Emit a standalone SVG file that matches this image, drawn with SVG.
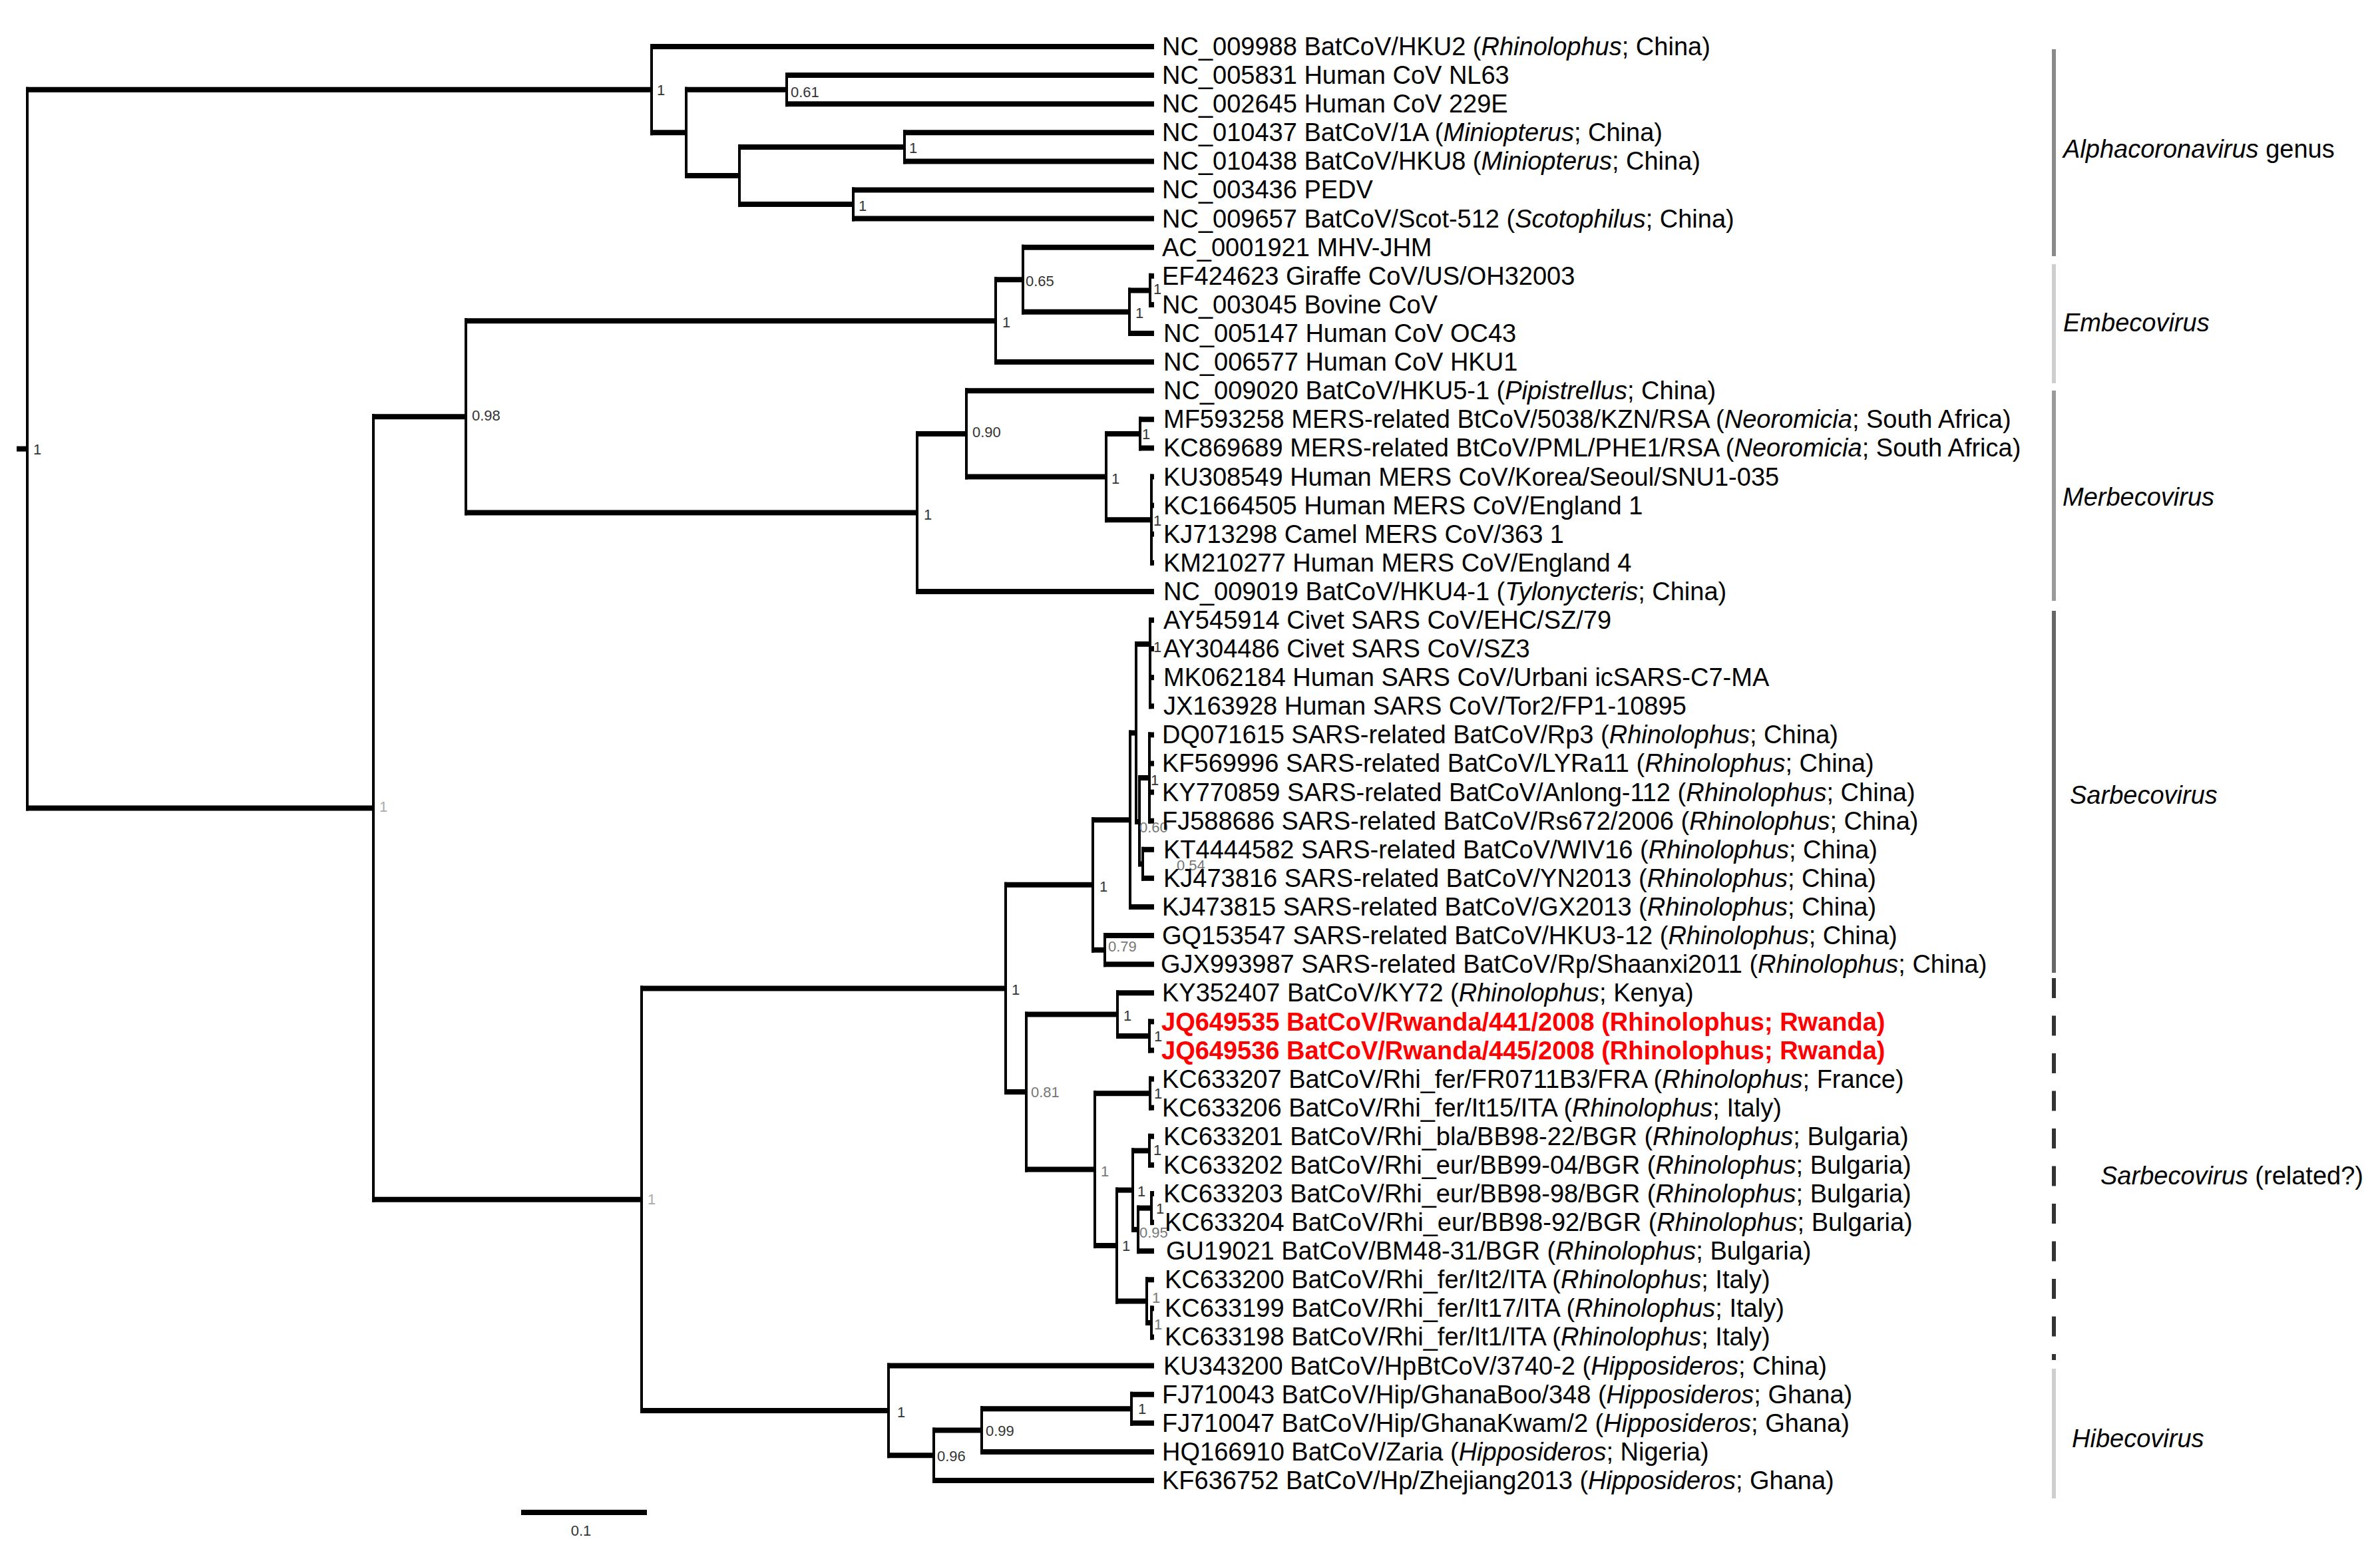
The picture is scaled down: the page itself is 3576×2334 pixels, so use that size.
<svg xmlns="http://www.w3.org/2000/svg" width="3576" height="2334" viewBox="0 0 3576 2334">
<style>
text{font-family:"Liberation Sans",Arial,sans-serif}
.lf{font-size:38px;fill:#000}
.red{font-size:38px;fill:#ff0000;font-weight:bold}
.bs{font-size:22px;fill:#333}
.bg{font-size:22px;fill:#777}
.bf{font-size:22px;fill:#aaa}
.cl{font-size:38px;fill:#000}
.h{stroke:#000;stroke-width:8}
.v{stroke:#000;stroke-width:4}
.bar{stroke-width:6;fill:none}
</style>
<rect width="3576" height="2334" fill="#fff"/>
<g id="connectors">
<g id="internal-h" class="h">
<line x1="25" y1="674.6" x2="43" y2="674.6"/>
<line x1="39" y1="134.7" x2="981" y2="134.7"/>
<line x1="977" y1="199.3" x2="1033" y2="199.3"/>
<line x1="1029" y1="134.7" x2="1184" y2="134.7"/>
<line x1="1029" y1="264" x2="1113" y2="264"/>
<line x1="1109" y1="220.9" x2="1361" y2="220.9"/>
<line x1="1109" y1="307.1" x2="1284" y2="307.1"/>
<line x1="39" y1="1214.5" x2="563" y2="1214.5"/>
<line x1="559" y1="626.3" x2="702" y2="626.3"/>
<line x1="698" y1="482.2" x2="1498" y2="482.2"/>
<line x1="1494" y1="420.2" x2="1539" y2="420.2"/>
<line x1="1535" y1="468.7" x2="1699" y2="468.7"/>
<line x1="1695" y1="436.4" x2="1730" y2="436.4"/>
<line x1="698" y1="770.4" x2="1380" y2="770.4"/>
<line x1="1376" y1="651.9" x2="1454" y2="651.9"/>
<line x1="1450" y1="716.5" x2="1664" y2="716.5"/>
<line x1="1660" y1="651.9" x2="1715" y2="651.9"/>
<line x1="1660" y1="781.2" x2="1732" y2="781.2"/>
<line x1="559" y1="1802.7" x2="966" y2="1802.7"/>
<line x1="962" y1="1485.5" x2="1513" y2="1485.5"/>
<line x1="1509" y1="1329.8" x2="1644" y2="1329.8"/>
<line x1="1640" y1="1232.3" x2="1700" y2="1232.3"/>
<line x1="1696" y1="1101.5" x2="1709" y2="1101.5"/>
<line x1="1705" y1="968" x2="1730" y2="968"/>
<line x1="1705" y1="1235" x2="1714" y2="1235"/>
<line x1="1710" y1="1169" x2="1729" y2="1169"/>
<line x1="1710" y1="1298.4" x2="1719" y2="1298.4"/>
<line x1="1640" y1="1427.7" x2="1662" y2="1427.7"/>
<line x1="1509" y1="1641.1" x2="1544" y2="1641.1"/>
<line x1="1540" y1="1524.6" x2="1681" y2="1524.6"/>
<line x1="1677" y1="1557" x2="1729" y2="1557"/>
<line x1="1540" y1="1757.6" x2="1647" y2="1757.6"/>
<line x1="1643" y1="1643.2" x2="1730" y2="1643.2"/>
<line x1="1643" y1="1872.1" x2="1680" y2="1872.1"/>
<line x1="1676" y1="1788.6" x2="1704" y2="1788.6"/>
<line x1="1700" y1="1729.4" x2="1729" y2="1729.4"/>
<line x1="1700" y1="1847.9" x2="1712" y2="1847.9"/>
<line x1="1708" y1="1815.6" x2="1732" y2="1815.6"/>
<line x1="1676" y1="1955.6" x2="1725" y2="1955.6"/>
<line x1="1721" y1="1988" x2="1732" y2="1988"/>
<line x1="962" y1="2120" x2="1337" y2="2120"/>
<line x1="1333" y1="2187.3" x2="1405" y2="2187.3"/>
<line x1="1401" y1="2149.6" x2="1477" y2="2149.6"/>
<line x1="1473" y1="2117.3" x2="1702" y2="2117.3"/>
</g>
<g id="internal-v" class="v">
<line x1="41" y1="130.7" x2="41" y2="1218.5"/>
<line x1="979" y1="66" x2="979" y2="203.3"/>
<line x1="1031" y1="130.7" x2="1031" y2="268"/>
<line x1="1182" y1="109.1" x2="1182" y2="160.2"/>
<line x1="1111" y1="216.9" x2="1111" y2="311.1"/>
<line x1="1359" y1="195.3" x2="1359" y2="246.4"/>
<line x1="1282" y1="281.5" x2="1282" y2="332.6"/>
<line x1="561" y1="622.3" x2="561" y2="1806.7"/>
<line x1="700" y1="478.2" x2="700" y2="774.4"/>
<line x1="1496" y1="416.2" x2="1496" y2="548.1"/>
<line x1="1537" y1="367.7" x2="1537" y2="472.7"/>
<line x1="1697" y1="432.4" x2="1697" y2="505"/>
<line x1="1728" y1="410.8" x2="1728" y2="461.9"/>
<line x1="1378" y1="647.9" x2="1378" y2="892.9"/>
<line x1="1452" y1="583.2" x2="1452" y2="720.5"/>
<line x1="1662" y1="647.9" x2="1662" y2="785.2"/>
<line x1="1713" y1="626.3" x2="1713" y2="677.4"/>
<line x1="1730" y1="712.5" x2="1730" y2="849.8"/>
<line x1="964" y1="1481.5" x2="964" y2="2124"/>
<line x1="1511" y1="1325.8" x2="1511" y2="1645.1"/>
<line x1="1642" y1="1228.3" x2="1642" y2="1431.7"/>
<line x1="1698" y1="1097.5" x2="1698" y2="1367"/>
<line x1="1707" y1="964" x2="1707" y2="1239"/>
<line x1="1728" y1="928" x2="1728" y2="1065.3"/>
<line x1="1712" y1="1165" x2="1712" y2="1302.4"/>
<line x1="1727" y1="1100.4" x2="1727" y2="1237.7"/>
<line x1="1717" y1="1272.8" x2="1717" y2="1323.9"/>
<line x1="1660" y1="1402.1" x2="1660" y2="1453.2"/>
<line x1="1542" y1="1520.6" x2="1542" y2="1761.6"/>
<line x1="1679" y1="1488.3" x2="1679" y2="1561"/>
<line x1="1727" y1="1531.4" x2="1727" y2="1582.5"/>
<line x1="1645" y1="1639.2" x2="1645" y2="1876.1"/>
<line x1="1728" y1="1617.6" x2="1728" y2="1668.7"/>
<line x1="1678" y1="1784.6" x2="1678" y2="1959.6"/>
<line x1="1702" y1="1725.4" x2="1702" y2="1851.9"/>
<line x1="1727" y1="1703.8" x2="1727" y2="1754.9"/>
<line x1="1710" y1="1811.6" x2="1710" y2="1884.2"/>
<line x1="1730" y1="1790" x2="1730" y2="1841.1"/>
<line x1="1723" y1="1919.3" x2="1723" y2="1992"/>
<line x1="1730" y1="1962.4" x2="1730" y2="2013.5"/>
<line x1="1335" y1="2048.6" x2="1335" y2="2191.3"/>
<line x1="1403" y1="2145.6" x2="1403" y2="2229"/>
<line x1="1475" y1="2113.3" x2="1475" y2="2185.9"/>
<line x1="1700" y1="2091.7" x2="1700" y2="2142.8"/>
</g>
<g id="leaf-branches" class="h">
<line x1="977" y1="70" x2="1734" y2="70"/>
<line x1="1180" y1="113.1" x2="1734" y2="113.1"/>
<line x1="1180" y1="156.2" x2="1734" y2="156.2"/>
<line x1="1357" y1="199.3" x2="1734" y2="199.3"/>
<line x1="1357" y1="242.4" x2="1734" y2="242.4"/>
<line x1="1280" y1="285.5" x2="1734" y2="285.5"/>
<line x1="1280" y1="328.6" x2="1734" y2="328.6"/>
<line x1="1535" y1="371.7" x2="1734" y2="371.7"/>
<line x1="1726" y1="414.8" x2="1734" y2="414.8"/>
<line x1="1726" y1="457.9" x2="1734" y2="457.9"/>
<line x1="1695" y1="501" x2="1734" y2="501"/>
<line x1="1494" y1="544.1" x2="1734" y2="544.1"/>
<line x1="1450" y1="587.2" x2="1734" y2="587.2"/>
<line x1="1711" y1="630.3" x2="1734" y2="630.3"/>
<line x1="1711" y1="673.4" x2="1734" y2="673.4"/>
<line x1="1728" y1="716.5" x2="1734" y2="716.5"/>
<line x1="1728" y1="759.6" x2="1734" y2="759.6"/>
<line x1="1728" y1="802.7" x2="1734" y2="802.7"/>
<line x1="1728" y1="845.8" x2="1734" y2="845.8"/>
<line x1="1376" y1="888.9" x2="1734" y2="888.9"/>
<line x1="1726" y1="932" x2="1734" y2="932"/>
<line x1="1726" y1="975.1" x2="1734" y2="975.1"/>
<line x1="1726" y1="1018.2" x2="1734" y2="1018.2"/>
<line x1="1726" y1="1061.3" x2="1734" y2="1061.3"/>
<line x1="1725" y1="1104.4" x2="1734" y2="1104.4"/>
<line x1="1725" y1="1147.5" x2="1734" y2="1147.5"/>
<line x1="1725" y1="1190.6" x2="1734" y2="1190.6"/>
<line x1="1725" y1="1233.7" x2="1734" y2="1233.7"/>
<line x1="1715" y1="1276.8" x2="1734" y2="1276.8"/>
<line x1="1715" y1="1319.9" x2="1734" y2="1319.9"/>
<line x1="1696" y1="1363" x2="1734" y2="1363"/>
<line x1="1658" y1="1406.1" x2="1734" y2="1406.1"/>
<line x1="1658" y1="1449.2" x2="1734" y2="1449.2"/>
<line x1="1677" y1="1492.3" x2="1734" y2="1492.3"/>
<line x1="1725" y1="1535.4" x2="1734" y2="1535.4"/>
<line x1="1725" y1="1578.5" x2="1734" y2="1578.5"/>
<line x1="1726" y1="1621.6" x2="1734" y2="1621.6"/>
<line x1="1726" y1="1664.7" x2="1734" y2="1664.7"/>
<line x1="1725" y1="1707.8" x2="1734" y2="1707.8"/>
<line x1="1725" y1="1750.9" x2="1734" y2="1750.9"/>
<line x1="1728" y1="1794" x2="1734" y2="1794"/>
<line x1="1728" y1="1837.1" x2="1734" y2="1837.1"/>
<line x1="1708" y1="1880.2" x2="1734" y2="1880.2"/>
<line x1="1721" y1="1923.3" x2="1734" y2="1923.3"/>
<line x1="1728" y1="1966.4" x2="1734" y2="1966.4"/>
<line x1="1728" y1="2009.5" x2="1734" y2="2009.5"/>
<line x1="1333" y1="2052.6" x2="1734" y2="2052.6"/>
<line x1="1698" y1="2095.7" x2="1734" y2="2095.7"/>
<line x1="1698" y1="2138.8" x2="1734" y2="2138.8"/>
<line x1="1473" y1="2181.9" x2="1734" y2="2181.9"/>
<line x1="1401" y1="2225" x2="1734" y2="2225"/>
</g>
</g>
<g id="support-labels">
<text class="bs" x="50" y="683">1</text>
<text class="bs" x="987" y="143">1</text>
<text class="bs" x="1188" y="146">0.61</text>
<text class="bs" x="1366" y="230">1</text>
<text class="bs" x="1290" y="317">1</text>
<text class="bf" x="570" y="1220">1</text>
<text class="bs" x="709" y="632">0.98</text>
<text class="bs" x="1506" y="492">1</text>
<text class="bs" x="1541" y="430">0.65</text>
<text class="bs" x="1706" y="478">1</text>
<text class="bs" x="1733" y="442">1</text>
<text class="bs" x="1388" y="781">1</text>
<text class="bs" x="1461" y="657">0.90</text>
<text class="bs" x="1670" y="727">1</text>
<text class="bs" x="1716" y="660">1</text>
<text class="bs" x="1733" y="790">1</text>
<text class="bf" x="973" y="1810">1</text>
<text class="bs" x="1520" y="1495">1</text>
<text class="bs" x="1652" y="1340">1</text>
<text class="bs" x="1733" y="980">1</text>
<text class="bg" x="1712" y="1251">0.60</text>
<text class="bs" x="1729" y="1180">1</text>
<text class="bg" x="1768" y="1308">0.54</text>
<text class="bg" x="1665" y="1430">0.79</text>
<text class="bg" x="1549" y="1649">0.81</text>
<text class="bs" x="1688" y="1534">1</text>
<text class="bs" x="1734" y="1565">1</text>
<text class="bg" x="1654" y="1768">1</text>
<text class="bs" x="1734" y="1651">1</text>
<text class="bs" x="1686" y="1880">1</text>
<text class="bs" x="1709" y="1798">1</text>
<text class="bs" x="1733" y="1736">1</text>
<text class="bg" x="1712" y="1860">0.95</text>
<text class="bs" x="1737" y="1824">1</text>
<text class="bg" x="1731" y="1958">1</text>
<text class="bg" x="1734" y="1998">1</text>
<text class="bs" x="1348" y="2130">1</text>
<text class="bs" x="1408" y="2196">0.96</text>
<text class="bs" x="1481" y="2158">0.99</text>
<text class="bs" x="1710" y="2125">1</text>
</g>
<g id="leaves">
<g id="leaf1"><text class="lf" x="1746" y="83">NC_009988 BatCoV/HKU2 (<tspan font-style="italic">Rhinolophus</tspan>; China)</text></g>
<g id="leaf2"><text class="lf" x="1746" y="126">NC_005831 Human CoV NL63</text></g>
<g id="leaf3"><text class="lf" x="1746" y="169">NC_002645 Human CoV 229E</text></g>
<g id="leaf4"><text class="lf" x="1746" y="212">NC_010437 BatCoV/1A (<tspan font-style="italic">Miniopterus</tspan>; China)</text></g>
<g id="leaf5"><text class="lf" x="1746" y="255">NC_010438 BatCoV/HKU8 (<tspan font-style="italic">Miniopterus</tspan>; China)</text></g>
<g id="leaf6"><text class="lf" x="1746" y="298">NC_003436 PEDV</text></g>
<g id="leaf7"><text class="lf" x="1746" y="342">NC_009657 BatCoV/Scot-512 (<tspan font-style="italic">Scotophilus</tspan>; China)</text></g>
<g id="leaf8"><text class="lf" x="1746" y="385">AC_0001921 MHV-JHM</text></g>
<g id="leaf9"><text class="lf" x="1746" y="428">EF424623 Giraffe CoV/US/OH32003</text></g>
<g id="leaf10"><text class="lf" x="1746" y="471">NC_003045 Bovine CoV</text></g>
<g id="leaf11"><text class="lf" x="1748" y="514">NC_005147 Human CoV OC43</text></g>
<g id="leaf12"><text class="lf" x="1748" y="557">NC_006577 Human CoV HKU1</text></g>
<g id="leaf13"><text class="lf" x="1748" y="600">NC_009020 BatCoV/HKU5-1 (<tspan font-style="italic">Pipistrellus</tspan>; China)</text></g>
<g id="leaf14"><text class="lf" x="1748" y="643">MF593258 MERS-related BtCoV/5038/KZN/RSA (<tspan font-style="italic">Neoromicia</tspan>; South Africa)</text></g>
<g id="leaf15"><text class="lf" x="1748" y="686">KC869689 MERS-related BtCoV/PML/PHE1/RSA (<tspan font-style="italic">Neoromicia</tspan>; South Africa)</text></g>
<g id="leaf16"><text class="lf" x="1748" y="730">KU308549 Human MERS CoV/Korea/Seoul/SNU1-035</text></g>
<g id="leaf17"><text class="lf" x="1748" y="773">KC1664505 Human MERS CoV/England 1</text></g>
<g id="leaf18"><text class="lf" x="1748" y="816">KJ713298 Camel MERS CoV/363 1</text></g>
<g id="leaf19"><text class="lf" x="1748" y="859">KM210277 Human MERS CoV/England 4</text></g>
<g id="leaf20"><text class="lf" x="1748" y="902">NC_009019 BatCoV/HKU4-1 (<tspan font-style="italic">Tylonycteris</tspan>; China)</text></g>
<g id="leaf21"><text class="lf" x="1748" y="945">AY545914 Civet SARS CoV/EHC/SZ/79</text></g>
<g id="leaf22"><text class="lf" x="1748" y="988">AY304486 Civet SARS CoV/SZ3</text></g>
<g id="leaf23"><text class="lf" x="1748" y="1031">MK062184 Human SARS CoV/Urbani icSARS-C7-MA</text></g>
<g id="leaf24"><text class="lf" x="1748" y="1074">JX163928 Human SARS CoV/Tor2/FP1-10895</text></g>
<g id="leaf25"><text class="lf" x="1746" y="1117">DQ071615 SARS-related BatCoV/Rp3 (<tspan font-style="italic">Rhinolophus</tspan>; China)</text></g>
<g id="leaf26"><text class="lf" x="1746" y="1160">KF569996 SARS-related BatCoV/LYRa11 (<tspan font-style="italic">Rhinolophus</tspan>; China)</text></g>
<g id="leaf27"><text class="lf" x="1746" y="1204">KY770859 SARS-related BatCoV/Anlong-112 (<tspan font-style="italic">Rhinolophus</tspan>; China)</text></g>
<g id="leaf28"><text class="lf" x="1746" y="1247">FJ588686 SARS-related BatCoV/Rs672/2006 (<tspan font-style="italic">Rhinolophus</tspan>; China)</text></g>
<g id="leaf29"><text class="lf" x="1748" y="1290">KT4444582 SARS-related BatCoV/WIV16 (<tspan font-style="italic">Rhinolophus</tspan>; China)</text></g>
<g id="leaf30"><text class="lf" x="1748" y="1333">KJ473816 SARS-related BatCoV/YN2013 (<tspan font-style="italic">Rhinolophus</tspan>; China)</text></g>
<g id="leaf31"><text class="lf" x="1746" y="1376">KJ473815 SARS-related BatCoV/GX2013 (<tspan font-style="italic">Rhinolophus</tspan>; China)</text></g>
<g id="leaf32"><text class="lf" x="1746" y="1419">GQ153547 SARS-related BatCoV/HKU3-12 (<tspan font-style="italic">Rhinolophus</tspan>; China)</text></g>
<g id="leaf33"><text class="lf" x="1744" y="1462">GJX993987 SARS-related BatCoV/Rp/Shaanxi2011 (<tspan font-style="italic">Rhinolophus</tspan>; China)</text></g>
<g id="leaf34"><text class="lf" x="1746" y="1505">KY352407 BatCoV/KY72 (<tspan font-style="italic">Rhinolophus</tspan>; Kenya)</text></g>
<g id="leaf35"><text class="red" x="1745" y="1549">JQ649535 BatCoV/Rwanda/441/2008 (Rhinolophus; Rwanda)</text></g>
<g id="leaf36"><text class="red" x="1745" y="1592">JQ649536 BatCoV/Rwanda/445/2008 (Rhinolophus; Rwanda)</text></g>
<g id="leaf37"><text class="lf" x="1746" y="1635">KC633207 BatCoV/Rhi_fer/FR0711B3/FRA (<tspan font-style="italic">Rhinolophus</tspan>; France)</text></g>
<g id="leaf38"><text class="lf" x="1746" y="1678">KC633206 BatCoV/Rhi_fer/It15/ITA (<tspan font-style="italic">Rhinolophus</tspan>; Italy)</text></g>
<g id="leaf39"><text class="lf" x="1748" y="1721">KC633201 BatCoV/Rhi_bla/BB98-22/BGR (<tspan font-style="italic">Rhinolophus</tspan>; Bulgaria)</text></g>
<g id="leaf40"><text class="lf" x="1748" y="1764">KC633202 BatCoV/Rhi_eur/BB99-04/BGR (<tspan font-style="italic">Rhinolophus</tspan>; Bulgaria)</text></g>
<g id="leaf41"><text class="lf" x="1748" y="1807">KC633203 BatCoV/Rhi_eur/BB98-98/BGR (<tspan font-style="italic">Rhinolophus</tspan>; Bulgaria)</text></g>
<g id="leaf42"><text class="lf" x="1750" y="1850">KC633204 BatCoV/Rhi_eur/BB98-92/BGR (<tspan font-style="italic">Rhinolophus</tspan>; Bulgaria)</text></g>
<g id="leaf43"><text class="lf" x="1752" y="1893">GU19021 BatCoV/BM48-31/BGR (<tspan font-style="italic">Rhinolophus</tspan>; Bulgaria)</text></g>
<g id="leaf44"><text class="lf" x="1750" y="1936">KC633200 BatCoV/Rhi_fer/It2/ITA (<tspan font-style="italic">Rhinolophus</tspan>; Italy)</text></g>
<g id="leaf45"><text class="lf" x="1750" y="1979">KC633199 BatCoV/Rhi_fer/It17/ITA (<tspan font-style="italic">Rhinolophus</tspan>; Italy)</text></g>
<g id="leaf46"><text class="lf" x="1750" y="2022">KC633198 BatCoV/Rhi_fer/It1/ITA (<tspan font-style="italic">Rhinolophus</tspan>; Italy)</text></g>
<g id="leaf47"><text class="lf" x="1748" y="2066">KU343200 BatCoV/HpBtCoV/3740-2 (<tspan font-style="italic">Hipposideros</tspan>; China)</text></g>
<g id="leaf48"><text class="lf" x="1746" y="2109">FJ710043 BatCoV/Hip/GhanaBoo/348 (<tspan font-style="italic">Hipposideros</tspan>; Ghana)</text></g>
<g id="leaf49"><text class="lf" x="1746" y="2152">FJ710047 BatCoV/Hip/GhanaKwam/2 (<tspan font-style="italic">Hipposideros</tspan>; Ghana)</text></g>
<g id="leaf50"><text class="lf" x="1746" y="2195">HQ166910 BatCoV/Zaria (<tspan font-style="italic">Hipposideros</tspan>; Nigeria)</text></g>
<g id="leaf51"><text class="lf" x="1746" y="2238">KF636752 BatCoV/Hp/Zhejiang2013 (<tspan font-style="italic">Hipposideros</tspan>; Ghana)</text></g>
</g>
<g id="clade-alpha">
<line class="bar" x1="3086" y1="74" x2="3086" y2="385" stroke="#8a8a8a"/>
<text class="cl" x="3100" y="237"><tspan font-style="italic">Alphacoronavirus</tspan> genus</text>
</g>
<g id="clade-embeco">
<line class="bar" x1="3086" y1="397" x2="3086" y2="576" stroke="#cfcfcf"/>
<text class="cl" x="3100" y="498" font-style="italic">Embecovirus</text>
</g>
<g id="clade-merbeco">
<line class="bar" x1="3086" y1="587" x2="3086" y2="903" stroke="#9a9a9a"/>
<text class="cl" x="3099" y="760" font-style="italic">Merbecovirus</text>
</g>
<g id="clade-sarbeco">
<line class="bar" x1="3086" y1="918" x2="3086" y2="1462" stroke="#666"/>
<text class="cl" x="3110" y="1208" font-style="italic">Sarbecovirus</text>
</g>
<g id="clade-sarbeco-related">
<line class="bar" x1="3086" y1="1470" x2="3086" y2="2044" stroke="#333" stroke-width="7" stroke-dasharray="30 26.5"/>
<text class="cl" x="3156" y="1780"><tspan font-style="italic">Sarbecovirus</tspan> (related?)</text>
</g>
<g id="clade-hibeco">
<line class="bar" x1="3086" y1="2057" x2="3086" y2="2252" stroke="#cfcfcf"/>
<text class="cl" x="3113" y="2175" font-style="italic">Hibecovirus</text>
</g>
<g id="scale-bar">
<line x1="783" y1="2273" x2="972" y2="2273" stroke="#000" stroke-width="8"/>
<text class="bs" x="873" y="2308" text-anchor="middle">0.1</text>
</g>
</svg>
